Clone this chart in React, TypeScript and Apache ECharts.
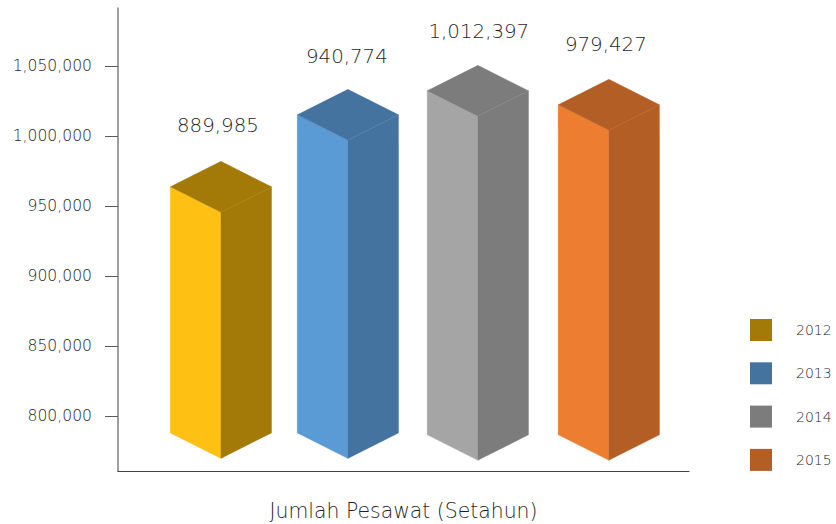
import React, { useEffect, useRef } from "react";
import * as echarts from "echarts";

const years = ["2012", "2013", "2014", "2015"];
const printedValues = ["889,985", "940,774", "1,012,397", "979,427"];
// Slot of each column along the hidden horizontal scale
const slots = [0, 0.982, 1.987, 3];
// Height of each column's front-top corners and its base, read on the left axis
const topValues = [963600, 1015000, 1032200, 1022200];
const baseValues = [787900, 787900, 786500, 786500];
const axisTicks = [800000, 850000, 900000, 950000, 1000000, 1050000];
const xTitle = "Jumlah Pesawat (Setahun)";

const frontColors = ["#FFC014", "#5B9BD5", "#A5A5A5", "#ED7D31"];
const sideColors = ["#A37A08", "#44739F", "#7C7C7C", "#B25E25"];

const FONT = "'DejaVu Sans', sans-serif";
const HALF_WIDTH = 0.392; // in slots
const DEPTH = 18200; // in axis units
const labelNudge = [-3, -1, 1, -3];
const labelLift = [61, 58, 59, 60];

function renderColumn(idx: number) {
  return (_params: any, api: any) => {
    const slot = api.value(0);
    const top = api.value(1);
    const base = api.value(2);
    const [cx, yTop] = api.coord([slot, top]);
    const [, yBase] = api.coord([slot, base]);
    const hw = api.size([HALF_WIDTH, 0])[0];
    const d = api.size([0, DEPTH])[1];
    const l = cx - hw;
    const r = cx + hw;
    const poly = (points: number[][], fill: string) => ({
      type: "polygon",
      shape: { points },
      style: { fill, stroke: fill, lineWidth: 0.3 },
    });
    return {
      type: "group",
      children: [
        poly([[l, yTop], [cx, yTop + d], [cx, yBase + d], [l, yBase]], frontColors[idx]),
        poly([[cx, yTop + d], [r, yTop], [r, yBase], [cx, yBase + d]], sideColors[idx]),
        poly([[l, yTop], [cx, yTop - d], [r, yTop], [cx, yTop + d]], sideColors[idx]),
        {
          type: "text",
          style: {
            text: printedValues[idx],
            x: cx + labelNudge[idx],
            y: yTop - labelLift[idx],
            align: "center",
            verticalAlign: "middle",
            fill: "#1f1f1f",
            font: `200 19.8px ${FONT}`,
          },
        },
      ],
    };
  };
}

export default function App() {
  const ref = useRef<HTMLDivElement>(null);
  useEffect(() => {
    document.body.style.margin = "0";
    const chart = echarts.init(ref.current!, null, { renderer: "svg" });
    chart.setOption({
      animation: false,
      backgroundColor: "#ffffff",
      grid: { left: 118, right: 147, top: 8, bottom: 53, outerBoundsMode: "none" },
      legend: {
        orient: "vertical",
        left: 750,
        top: 319,
        padding: 0,
        itemWidth: 22,
        itemHeight: 22,
        itemGap: 21.3,
        icon: "rect",
        data: years,
        textStyle: { color: "#1f1f1f", fontFamily: FONT, fontWeight: 200, fontSize: 14, padding: [0, 0, 0, 19] },
      },
      xAxis: {
        type: "value",
        min: -0.796,
        max: 3.62,
        name: xTitle,
        nameLocation: "middle",
        nameGap: 30,
        nameTextStyle: { color: "#1f1f1f", fontFamily: FONT, fontWeight: 200, fontSize: 20.4 },
        axisLine: { onZero: false, lineStyle: { color: "#404040", width: 1.2 } },
        axisTick: { show: false },
        axisLabel: { show: false },
        splitLine: { show: false },
      },
      yAxis: {
        type: "value",
        min: 760700,
        max: 1091300,
        axisLine: { show: true, onZero: false, lineStyle: { color: "#7F7F7F", width: 1.5 } },
        axisTick: { show: true, length: 13, customValues: axisTicks, lineStyle: { color: "#595959", width: 1 } },
        axisLabel: {
          customValues: axisTicks,
          margin: 26,
          color: "#262626",
          fontFamily: FONT,
          fontWeight: 200,
          fontSize: 15.6,
          formatter: (v: number) => v.toLocaleString("en-US"),
        },
        splitLine: { show: false },
      },
      series: years.map((year, i) => ({
        type: "custom",
        name: year,
        coordinateSystem: "cartesian2d",
        itemStyle: { color: sideColors[i] },
        data: [[slots[i], topValues[i], baseValues[i]]],
        encode: { x: 0, y: [1, 2] },
        renderItem: renderColumn(i),
      })),
    });
    return () => chart.dispose();
  }, []);
  return <div ref={ref} style={{ position: "absolute", left: 0, top: 0, width: 836, height: 524 }} />;
}
